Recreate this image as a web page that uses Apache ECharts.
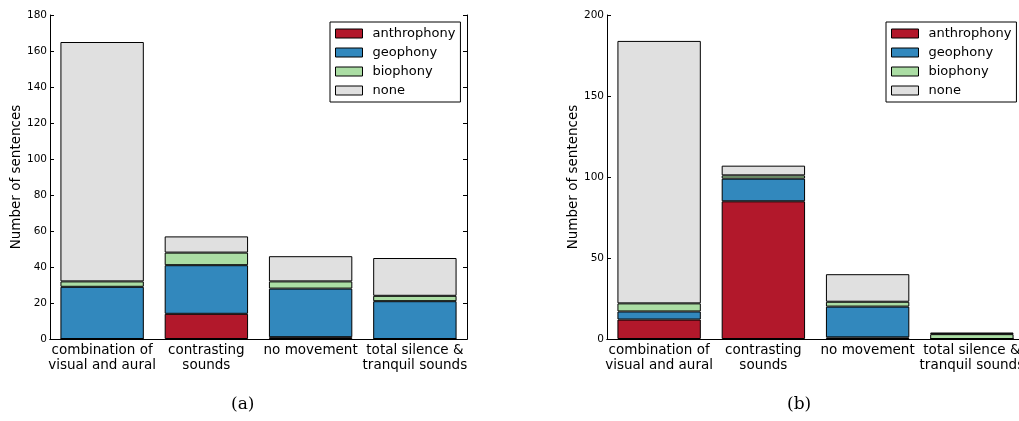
<!DOCTYPE html>
<html>
<head>
<meta charset="utf-8">
<script src="https://cdn.jsdelivr.net/npm/echarts@6/dist/echarts.min.js"></script>
<style>
html,body{margin:0;padding:0;background:#fff;}
#chart{width:1019px;height:421px;}
</style>
</head>
<body>
<div id="chart"></div>
<script>
var categories = ['combination of\nvisual and aural', 'contrasting\nsounds', 'no movement', 'total silence &\ntranquil sounds'];
var seriesNames = ['anthrophony', 'geophony', 'biophony', 'none'];
var seriesColors = ['#b2182b', '#3288bd', '#abdda4', '#e0e0e0'];

// panel (a)
var aAnthrophony = [0, 14, 1, 0];
var aGeophony = [29, 27, 27, 21];
var aBiophony = [3, 7, 4, 3];
var aNone = [133, 9, 14, 21];
var aTicks = {min: 0, max: 180, interval: 20};

// panel (b)
var bAnthrophony = [12, 85, 1, 0];
var bGeophony = [5, 14, 19, 0];
var bBiophony = [5, 2, 3, 3];
var bNone = [162, 6, 17, 1];
var bTicks = {min: 0, max: 200, interval: 50};

var FONT = 'DejaVu Sans';
var chart = echarts.init(document.getElementById('chart'));

function xAxes(gridIndex) {
  return [{
    type: 'category', gridIndex: gridIndex, data: categories, position: 'bottom',
    axisLine: {lineStyle: {color: '#000', width: 1}},
    axisTick: {inside: true, alignWithLabel: true, length: 4, lineStyle: {color: '#000'}},
    axisLabel: {color: '#000', fontFamily: FONT, fontSize: 13.5, lineHeight: 15, margin: 4, interval: 0}
  }, {
    type: 'category', gridIndex: gridIndex, data: categories, position: 'top',
    axisLine: {lineStyle: {color: '#000', width: 1}},
    axisTick: {inside: true, alignWithLabel: true, length: 4, lineStyle: {color: '#000'}},
    axisLabel: {show: false}
  }];
}
function yAxes(gridIndex, t) {
  return [{
    type: 'value', gridIndex: gridIndex, position: 'left', min: t.min, max: t.max, interval: t.interval,
    name: 'Number of sentences', nameLocation: 'middle', nameGap: 27,
    nameTextStyle: {color: '#000', fontFamily: FONT, fontSize: 13.5},
    axisLine: {show: true, lineStyle: {color: '#000', width: 1}},
    axisTick: {show: true, inside: true, length: 4, lineStyle: {color: '#000'}},
    axisLabel: {color: '#000', fontFamily: FONT, fontSize: 10.5, margin: 3},
    splitLine: {show: false}
  }, {
    type: 'value', gridIndex: gridIndex, position: 'right', min: t.min, max: t.max, interval: t.interval,
    axisLine: {show: true, lineStyle: {color: '#000', width: 1}},
    axisTick: {show: true, inside: true, length: 4, lineStyle: {color: '#000'}},
    axisLabel: {show: false},
    splitLine: {show: false}
  }];
}
function makeSeries(dataArrays, xi, yi, stack) {
  return dataArrays.map(function (d, i) {
    return {
      name: seriesNames[i], type: 'bar', stack: stack, xAxisIndex: xi, yAxisIndex: yi,
      data: d, barWidth: '80%',
      itemStyle: {color: seriesColors[i], borderColor: '#000', borderWidth: 1}
    };
  });
}
function legend(left) {
  return {
    orient: 'vertical', left: left, top: 22, data: seriesNames,
    icon: 'rect', itemWidth: 27, itemHeight: 9, itemGap: 4,
    padding: [4, 5, 4, 5],
    borderColor: '#000', borderWidth: 1, backgroundColor: '#fff',
    itemStyle: {borderColor: '#000', borderWidth: 1},
    textStyle: {color: '#000', fontFamily: FONT, fontSize: 13, lineHeight: 15, padding: [0, 0, 0, 5]}
  };
}

var option = {
  animation: false,
  backgroundColor: '#fff',
  grid: [
    {left: 50, top: 15, width: 417, height: 324, outerBoundsMode: 'none', containLabel: false},
    {left: 607, top: 15, width: 417, height: 324, outerBoundsMode: 'none', containLabel: false}
  ],
  xAxis: xAxes(0).concat(xAxes(1)),
  yAxis: yAxes(0, aTicks).concat(yAxes(1, bTicks)),
  legend: [legend(330), legend(886)],
  series: makeSeries([aAnthrophony, aGeophony, aBiophony, aNone], 0, 0, 'a')
    .concat(makeSeries([bAnthrophony, bGeophony, bBiophony, bNone], 2, 2, 'b')),
  graphic: [
    {type: 'text', left: 242 - 11, top: 396, style: {text: '(a)', font: '17px "DejaVu Serif"', fill: '#000'}},
    {type: 'text', left: 798 - 11, top: 396, style: {text: '(b)', font: '17px "DejaVu Serif"', fill: '#000'}}
  ]
};
chart.setOption(option);
</script>
</body>
</html>
